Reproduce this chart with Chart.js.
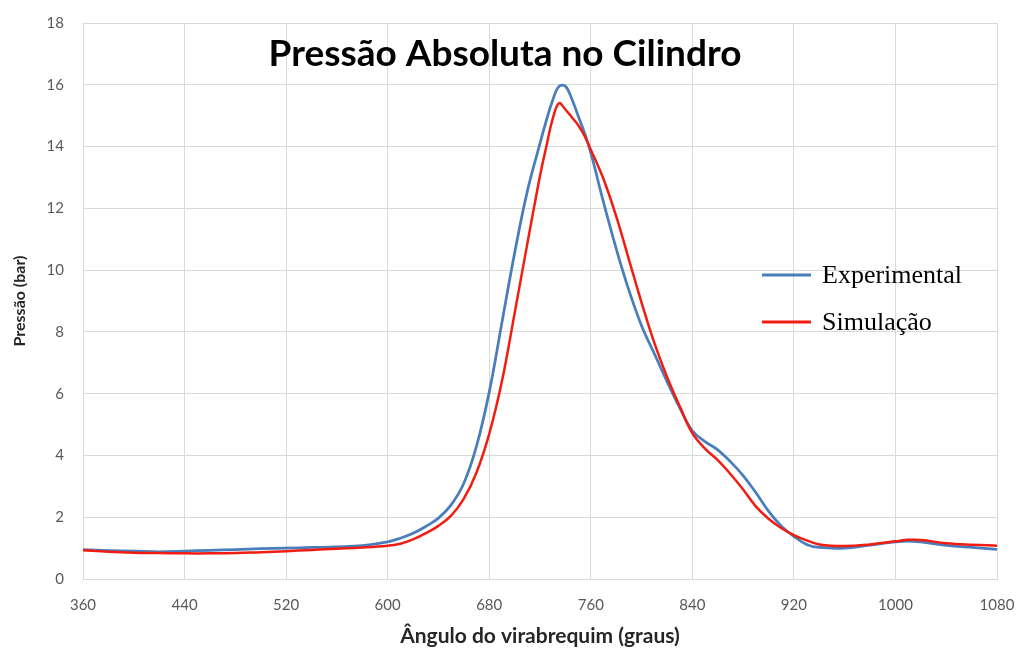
<!DOCTYPE html>
<html>
<head>
<meta charset="utf-8">
<script src="https://cdn.jsdelivr.net/npm/chart.js@4.4.1/dist/chart.umd.min.js"></script>
<style>
    body { margin: 0; background: #fff; }
</style>
</head>
<body>
<canvas id="chart" width="1020" height="651"></canvas>
<script>
// crank angle (graus) shared by both series
const angles = [360, 380, 400, 420, 440, 460, 480, 500, 520, 540, 560, 580, 600, 610, 620, 630, 640, 650, 660, 670,
    680, 690, 700, 710, 720, 725, 730, 735, 740, 745, 750, 755, 760, 770, 780, 790, 800, 810, 820, 830,
    840, 850, 860, 870, 880, 890, 900, 910, 920, 930, 940, 960, 980, 1000, 1010, 1020, 1040, 1060, 1080];

// pressure (bar)
const experimental = [0.95, 0.92, 0.90, 0.88, 0.90, 0.93, 0.95, 0.98, 1.00, 1.02, 1.04, 1.08, 1.20, 1.32, 1.48, 1.70, 1.97, 2.40, 3.10, 4.30,
    6.05, 8.30, 10.55, 12.55, 14.10, 14.85, 15.50, 15.95, 15.95, 15.55, 15.00, 14.45, 13.80, 12.20, 10.70, 9.35, 8.20, 7.30, 6.40, 5.55,
    4.80, 4.45, 4.18, 3.80, 3.35, 2.80, 2.20, 1.72, 1.38, 1.12, 1.02, 1.00, 1.10, 1.20, 1.23, 1.20, 1.09, 1.02, 0.96];

const simulacao = [0.93, 0.88, 0.85, 0.84, 0.83, 0.83, 0.84, 0.87, 0.90, 0.94, 0.98, 1.02, 1.08, 1.14, 1.28, 1.48, 1.72, 2.05, 2.60, 3.45,
    4.70, 6.40, 8.60, 10.85, 13.05, 14.00, 14.90, 15.40, 15.20, 14.95, 14.70, 14.35, 13.90, 12.95, 11.75, 10.35, 8.95, 7.65, 6.55, 5.60,
    4.72, 4.22, 3.85, 3.40, 2.90, 2.35, 1.95, 1.65, 1.42, 1.25, 1.12, 1.07, 1.12, 1.22, 1.27, 1.26, 1.16, 1.11, 1.08];

const seriesNames = ['Experimental', 'Simulação'];
const seriesColors = ['#4a7ebb', '#f21d12'];
const chartTitle = 'Pressão Absoluta no Cilindro';
const xTitle = 'Ângulo do virabrequim (graus)';
const yTitle = 'Pressão (bar)';

const toPoints = (values) => values.map((v, i) => ({ x: angles[i], y: v }));

// title + legend drawn over the plot area, like the original sheet
const overlay = {
    id: 'overlay',
    afterDraw: (chart) => {
        const { ctx } = chart;
        ctx.save();
        ctx.fillStyle = '#000';
        ctx.textAlign = 'center';
        ctx.textBaseline = 'middle';
        ctx.font = 'bold 37px Lato';
        ctx.fillText(chartTitle, 505, 54);

        ctx.font = '26px "Liberation Serif"';
        ctx.textAlign = 'left';
        seriesNames.forEach((name, i) => {
            const y = 275 + i * 47;
            ctx.beginPath();
            ctx.moveTo(762, y);
            ctx.lineTo(811, y);
            ctx.lineWidth = 3;
            ctx.strokeStyle = seriesColors[i];
            ctx.stroke();
            ctx.fillStyle = '#000';
            ctx.fillText(name, 822, y + 1);
        });
        ctx.restore();
    }
};

new Chart(document.getElementById('chart'), {
    type: 'line',
    data: {
        datasets: [
            {
                label: seriesNames[0],
                data: toPoints(experimental),
                borderColor: seriesColors[0],
                borderWidth: 2.75,
                pointRadius: 0,
                tension: 0.4,
                order: 1,
            },
            {
                label: seriesNames[1],
                data: toPoints(simulacao),
                borderColor: seriesColors[1],
                borderWidth: 2.5,
                pointRadius: 0,
                tension: 0.4,
                order: 0,
            },
        ],
    },
    options: {
        responsive: false,
        animation: false,
        layout: { padding: { top: 23, right: 23, left: 0, bottom: 0 } },
        scales: {
            x: {
                type: 'linear',
                min: 360,
                max: 1080,
                afterFit: (scale) => {
                    scale.height = 72;
                    scale.paddingLeft = 0;
                    scale.paddingRight = 0;
                },
                ticks: {
                    stepSize: 80,
                    padding: 17,
                    color: '#595959',
                    font: { family: 'Lato', size: 15 },
                    format: { useGrouping: false },
                },
                grid: { color: '#d9d9d9', drawTicks: false },
                border: { color: '#d9d9d9' },
                title: {
                    display: true,
                    text: xTitle,
                    color: '#262626',
                    font: { family: 'Lato', size: 21, weight: 'bold' },
                    padding: { top: 0, bottom: 2 },
                },
            },
            y: {
                min: 0,
                max: 18,
                afterFit: (scale) => {
                    scale.width = 83;
                    scale.paddingTop = 0;
                    scale.paddingBottom = 0;
                },
                ticks: { stepSize: 2, padding: 19, color: '#595959', font: { family: 'Lato', size: 15 } },
                grid: { color: '#d9d9d9', drawTicks: false },
                border: { display: false },
                title: {
                    display: true,
                    text: yTitle,
                    color: '#262626',
                    font: { family: 'Lato', size: 16, weight: 'bold' },
                    padding: { top: 10, bottom: 0 },
                },
            },
        },
        plugins: {
            legend: { display: false },
            tooltip: { enabled: false },
        },
    },
    plugins: [overlay],
});
</script>
</body>
</html>
